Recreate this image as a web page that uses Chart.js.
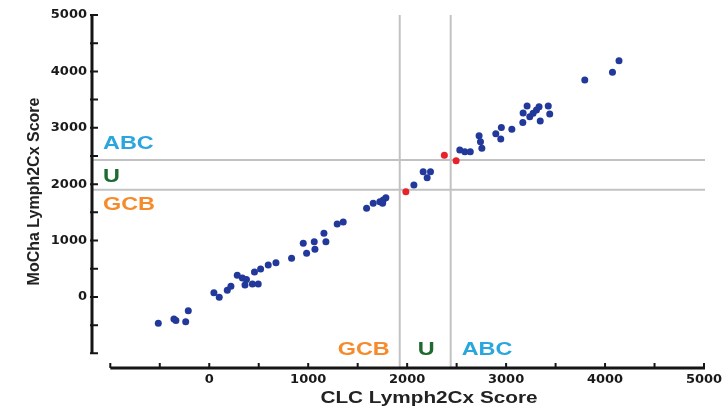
<!DOCTYPE html>
<html>
<head>
<meta charset="utf-8">
<script src="https://cdn.jsdelivr.net/npm/chart.js@4.4.0/dist/chart.umd.min.js"></script>
<style>
    body { margin: 0; background: #fff; }
</style>
</head>
<body>
<canvas id="CanvasLymph2Cx" width="728" height="412"></canvas>
<script>
// concordant samples (CLC score vs MoCha score)
const clcBlue = [
    -515, -357, -337, -238, -212, 47, 101, 182, 219, 283,
    335, 376, 361, 436, 495, 457, 519, 596, 674, 832,
    950, 984, 1061, 1068, 1159, 1179, 1293, 1354, 1590, 1657,
    1724, 1758, 1785, 1752, 2068, 2162, 2236, 2202, 2532, 2583,
    2638, 2727, 2741, 2755, 2896, 2946, 2952, 3058, 3169, 3172,
    3212, 3239, 3273, 3307, 3333, 3345, 3426, 3441, 3795, 4075, 4141
];
const mochaBlue = [
    -466, -390, -417, -438, -243, 76, -5, 119, 190, 385,
    337, 310, 213, 230, 230, 443, 496, 567, 608, 686,
    952, 775, 980, 846, 1129, 980, 1294, 1330, 1573, 1661,
    1690, 1720, 1761, 1661, 1986, 2222, 2222, 2115, 2606, 2576,
    2576, 2858, 2753, 2636, 2893, 2801, 3005, 2973, 3094, 3262,
    3386, 3197, 3257, 3315, 3374, 3120, 3386, 3245, 3847, 3984, 4190
];

// discordant samples
const clcRed = [1987, 2376, 2495];
const mochaRed = [1867, 2512, 2417];

// subtype cut-offs
const clcCutoffs = [1925, 2440];
const mochaCutoffs = [1900, 2430];

const tickLabels = [0, 1000, 2000, 3000, 4000, 5000];
const axisStart = -1000;
const axisEnd = 5000;

function toPoints(xs, ys) {
    return xs.map((v, i) => ({ x: v, y: ys[i] }));
}

// draws text stretched wider, like the scanned figure
function wideText(ctx, text, x, y, align, scaleX) {
    ctx.save();
    ctx.translate(x, y);
    ctx.scale(scaleX, 1);
    ctx.textAlign = align;
    ctx.textBaseline = 'middle';
    ctx.fillText(text, 0, 0);
    ctx.restore();
}

const figurePlugin = {
    id: 'figurePlugin',
    beforeDatasetsDraw(chart) {
        const { ctx, chartArea: a, scales: { x, y } } = chart;
        ctx.save();

        // cut-off lines
        ctx.strokeStyle = '#c2c2c2';
        ctx.lineWidth = 2;
        clcCutoffs.forEach(v => {
            const px = x.getPixelForValue(v);
            ctx.beginPath();
            ctx.moveTo(px, y.getPixelForValue(axisEnd));
            ctx.lineTo(px, a.bottom);
            ctx.stroke();
        });
        mochaCutoffs.forEach(v => {
            const py = y.getPixelForValue(v);
            ctx.beginPath();
            ctx.moveTo(a.left, py);
            ctx.lineTo(a.right + 1, py);
            ctx.stroke();
        });

        // detached axes
        ctx.strokeStyle = '#151515';
        ctx.lineWidth = 3;
        ctx.beginPath();
        ctx.moveTo(a.left, y.getPixelForValue(axisEnd) - 1);
        ctx.lineTo(a.left, y.getPixelForValue(axisStart));
        ctx.moveTo(x.getPixelForValue(axisStart), a.bottom);
        ctx.lineTo(x.getPixelForValue(axisEnd) + 1, a.bottom);
        ctx.stroke();

        ctx.lineWidth = 2;
        ctx.beginPath();
        for (let v = axisStart; v <= axisEnd; v += 500) {
            const py = y.getPixelForValue(v);
            ctx.moveTo(a.left - 2, py);
            ctx.lineTo(a.left + 6, py);
            const px = x.getPixelForValue(v);
            ctx.moveTo(px, a.bottom);
            ctx.lineTo(px, a.bottom - 5);
        }
        ctx.stroke();
        ctx.restore();
    },
    afterDraw(chart) {
        const { ctx, chartArea: a, scales: { x, y } } = chart;
        const xLo = x.getPixelForValue(clcCutoffs[0]);
        const xHi = x.getPixelForValue(clcCutoffs[1]);
        const yLo = y.getPixelForValue(mochaCutoffs[0]);
        const yHi = y.getPixelForValue(mochaCutoffs[1]);
        const blue = '#2aa6df', green = '#1f6a2e', orange = '#f68b2b';

        ctx.save();
        ctx.font = 'bold 18px "Liberation Sans", Arial, sans-serif';

        // left side labels
        ctx.fillStyle = blue;
        wideText(ctx, 'ABC', a.left + 11, yHi - 16, 'left', 1.3);
        ctx.fillStyle = green;
        wideText(ctx, 'U', a.left + 11, (yHi + yLo) / 2 + 2, 'left', 1.3);
        ctx.fillStyle = orange;
        wideText(ctx, 'GCB', a.left + 11, yLo + 15, 'left', 1.3);

        // bottom labels
        const yBottom = a.bottom - 18;
        ctx.fillStyle = orange;
        wideText(ctx, 'GCB', xLo - 10, yBottom, 'right', 1.3);
        ctx.fillStyle = green;
        wideText(ctx, 'U', (xLo + xHi) / 2 + 1, yBottom, 'center', 1.3);
        ctx.fillStyle = blue;
        wideText(ctx, 'ABC', xHi + 11, yBottom, 'left', 1.3);

        // x axis title
        ctx.fillStyle = '#222';
        ctx.font = 'bold 17px "Liberation Sans", Arial, sans-serif';
        wideText(ctx, 'CLC Lymph2Cx Score', (a.left + a.right) / 2 + 31, 398, 'center', 1.22);
        ctx.restore();
    }
};

const tickFont = { family: 'DejaVu Sans', weight: 'bold', size: 13 };

new Chart(document.getElementById('CanvasLymph2Cx'), {
    type: 'scatter',
    data: {
        datasets: [{
            label: 'Concordant',
            data: toPoints(clcBlue, mochaBlue),
            backgroundColor: '#22389a',
            borderWidth: 0,
            pointRadius: 3.5
        }, {
            label: 'Discordant',
            data: toPoints(clcRed, mochaRed),
            backgroundColor: '#e8222a',
            borderWidth: 0,
            pointRadius: 3.5
        }]
    },
    options: {
        responsive: false,
        animation: false,
        devicePixelRatio: 1,
        layout: {
            padding: { top: 15, right: 24, left: 0, bottom: 0 }
        },
        plugins: {
            legend: { display: false },
            tooltip: { enabled: false }
        },
        scales: {
            x: {
                type: 'linear',
                min: -1185,
                max: 5000,
                grid: { display: false, drawTicks: false },
                border: { display: false },
                afterBuildTicks: scale => {
                    scale.ticks = tickLabels.map(v => ({ value: v }));
                },
                afterFit: scale => {
                    scale.height = 44;
                },
                ticks: {
                    padding: 4,
                    color: '#1a1a1a',
                    font: tickFont,
                    callback: value => String(value)
                }
            },
            y: {
                type: 'linear',
                min: -1260,
                max: 5000,
                grid: { display: false, drawTicks: false },
                border: { display: false },
                afterBuildTicks: scale => {
                    scale.ticks = tickLabels.map(v => ({ value: v }));
                },
                afterFit: scale => {
                    scale.width = 92;
                },
                ticks: {
                    padding: 5,
                    color: '#1a1a1a',
                    font: tickFont,
                    callback: value => String(value)
                },
                title: {
                    display: true,
                    text: 'MoCha Lymph2Cx Score',
                    color: '#222',
                    padding: { top: 25, bottom: 0 },
                    font: { family: 'Liberation Sans', weight: 'bold', size: 16 }
                }
            }
        }
    },
    plugins: [figurePlugin]
});
</script>
</body>
</html>
